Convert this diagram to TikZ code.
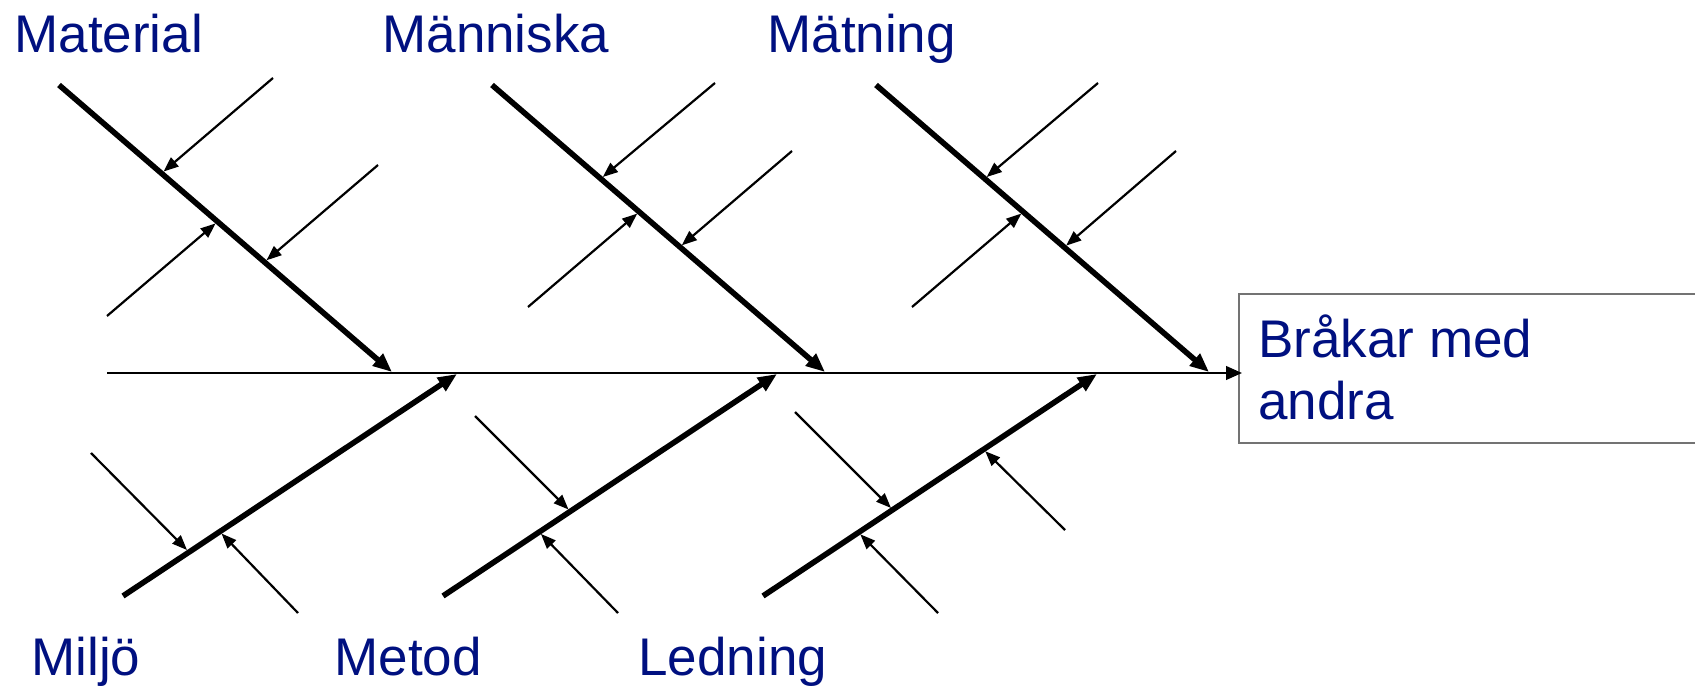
\documentclass[tikz,border=0pt]{standalone}
\usepackage{fontspec}
\setmainfont{Liberation Sans}
\usetikzlibrary{arrows.meta}
\definecolor{lbl}{RGB}{0,16,128}
\begin{document}
\begin{tikzpicture}[x=0.5pt,y=-0.5pt,
  bone/.style={line width=2.8pt,-{Triangle[length=9.5pt,width=7.6pt]}},
  rib/.style={line width=1.1pt,-{Triangle[length=7.5pt,width=5.8pt]}},
  spine/.style={line width=1.2pt,-{Triangle[length=8pt,width=6.8pt]}},
  lab/.style={text=lbl,font=\fontsize{26.5}{31}\selectfont,anchor=base west,inner sep=0pt},
  boxline/.style={line width=0.8pt,draw=black!55}]
\useasboundingbox (0,0) rectangle (1695,688);
% labels
\node[lab] (material) at (14,53) {Material};
\node[lab] (manniska) at (382,53) {Människa};
\node[lab] (matning) at (767,53) {Mätning};
\node[lab] (miljo) at (31,675) {Miljö};
\node[lab] (metod) at (334,675) {Metod};
\node[lab] (ledning) at (638,675) {Ledning};
\node[lab] (effectA) at (1258,358) {Bråkar med};
\node[lab] (effectB) at (1258,420) {andra};
% effect box
\coordinate (boxTR) at (1712,294);
\coordinate (boxTL) at (1239,294);
\coordinate (boxBL) at (1239,443);
\coordinate (boxBR) at (1712,443);
\draw[boxline] (boxTR) -- (boxTL) -- (boxBL) -- (boxBR);
% spine
\coordinate (spineL) at (107,373);
\coordinate (spineR) at (1242,373);
\draw[spine] (spineL) -- (spineR);
% top bones
\coordinate (t1s) at (59,85);   \coordinate (t1e) at (392,372);
\coordinate (t2s) at (492,85);  \coordinate (t2e) at (825,372);
\coordinate (t3s) at (876,85);  \coordinate (t3e) at (1209,372);
\draw[bone] (t1s) -- (t1e);
\draw[bone] (t2s) -- (t2e);
\draw[bone] (t3s) -- (t3e);
% bottom bones
\coordinate (b1s) at (123,596); \coordinate (b1e) at (457,374);
\coordinate (b2s) at (443,596); \coordinate (b2e) at (777,374);
\coordinate (b3s) at (763,596); \coordinate (b3e) at (1097,374);
\draw[bone] (b1s) -- (b1e);
\draw[bone] (b2s) -- (b2e);
\draw[bone] (b3s) -- (b3e);
% ribs on Material
\coordinate (r11s) at (273,78);   \coordinate (r11e) at (163.5,171.6);
\coordinate (r12s) at (378,165);  \coordinate (r12e) at (266.5,260.3);
\coordinate (r13s) at (107,316);  \coordinate (r13e) at (215.6,223.4);
\draw[rib] (r11s) -- (r11e);
\draw[rib] (r12s) -- (r12e);
\draw[rib] (r13s) -- (r13e);
% ribs on Människa
\coordinate (r21s) at (715,83);   \coordinate (r21e) at (602.8,177);
\coordinate (r22s) at (792,151);  \coordinate (r22e) at (681.8,245.3);
\coordinate (r23s) at (528,307);  \coordinate (r23e) at (637.2,213.6);
\draw[rib] (r21s) -- (r21e);
\draw[rib] (r22s) -- (r22e);
\draw[rib] (r23s) -- (r23e);
% ribs on Mätning
\coordinate (r31s) at (1098,83);  \coordinate (r31e) at (986.7,177);
\coordinate (r32s) at (1176,151); \coordinate (r32e) at (1066.2,245.6);
\coordinate (r33s) at (912,307);  \coordinate (r33e) at (1021.3,213.6);
\draw[rib] (r31s) -- (r31e);
\draw[rib] (r32s) -- (r32e);
\draw[rib] (r33s) -- (r33e);
% ribs on Miljö
\coordinate (r41s) at (91,453);   \coordinate (r41e) at (187,550);
\coordinate (r42s) at (298,613);  \coordinate (r42e) at (221.5,533.5);
\draw[rib] (r41s) -- (r41e);
\draw[rib] (r42s) -- (r42e);
% ribs on Metod
\coordinate (r51s) at (475,416);  \coordinate (r51e) at (568.5,509.5);
\coordinate (r52s) at (618,613);  \coordinate (r52e) at (540.9,533.9);
\draw[rib] (r51s) -- (r51e);
\draw[rib] (r52s) -- (r52e);
% ribs on Ledning
\coordinate (r61s) at (795,412);  \coordinate (r61e) at (891,508);
\coordinate (r62s) at (938,613);  \coordinate (r62e) at (860.3,534.3);
\coordinate (r63s) at (1065,530); \coordinate (r63e) at (985.2,451.2);
\draw[rib] (r61s) -- (r61e);
\draw[rib] (r62s) -- (r62e);
\draw[rib] (r63s) -- (r63e);
\end{tikzpicture}
\end{document}
